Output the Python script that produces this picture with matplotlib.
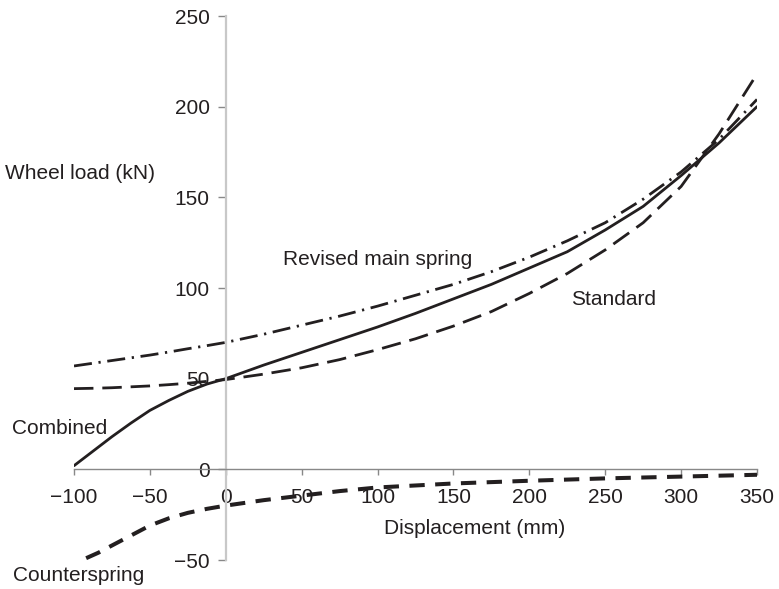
import matplotlib
matplotlib.use("Agg")
import matplotlib.pyplot as plt

plt.rcParams['font.family'] = ['Liberation Sans', 'DejaVu Sans']

# Data
x_main = [-100, -87.5, -75, -62.5, -50, -37.5, -25, -12.5, 0, 25, 50, 75, 100, 125, 150,
          175, 200, 225, 250, 275, 300, 325, 350]
combined = [2, 10, 18, 25.5, 32.5, 38, 43, 47, 50, 57.5, 64.5, 71.5, 78.5, 86, 94,
            102, 111, 120, 132, 145, 162, 180, 200]
revised = [57, 58.5, 60, 61.5, 63, 64.7, 66.5, 68.2, 70, 74.5, 79.5, 84.5, 90, 96, 102,
           109, 117, 126, 136, 149, 164, 182, 204]
standard = [44.5, 44.7, 45, 45.5, 46, 46.7, 47.5, 48.5, 49.5, 52.5, 56, 60.5, 66, 72, 79,
            87, 97, 108, 121, 136, 156, 185, 218]

x_counter = [-92, -84, -75, -62.5, -50, -37.5, -25, -12.5, 0, 25, 50, 75, 100, 150, 200,
             250, 300, 350]
counter = [-49, -46, -42, -36.5, -31, -27, -24, -21.8, -20, -17, -14.5, -12, -10, -7.8,
           -6.3, -5, -4, -3]

xticks = [-100, -50, 0, 50, 100, 150, 200, 250, 300, 350]
yticks = [-50, 0, 50, 100, 150, 200, 250]

ink = '#231f20'

fig = plt.figure(figsize=(7.79, 5.89), dpi=100)
ax = fig.add_axes([74/779, 29/589, 683/779, 544/589])
ax.set_xlim(-100, 350)
ax.set_ylim(-50, 250)

ax.plot(x_main, combined, color=ink, lw=2.0, solid_capstyle='round', solid_joinstyle='round')
ax.plot(x_main, revised, color=ink, lw=2.0, linestyle=(0, (6.5, 2.4, 0.8, 2.4)))
ax.plot(x_main, standard, color=ink, lw=2.0, linestyle=(0, (7, 3.2)))
ax.plot(x_counter, counter, color=ink, lw=2.9, linestyle=(0, (3.8, 2.6)))

for s in ['top', 'right']:
    ax.spines[s].set_visible(False)
ax.spines['left'].set_position(('data', 0))
ax.spines['bottom'].set_position(('data', 0))
ax.spines['left'].set_color('#c8c8c8')
ax.spines['left'].set_linewidth(1.6)
ax.spines['bottom'].set_color('#888888')
ax.spines['bottom'].set_linewidth(1.0)
ax.spines['left'].set_bounds(-50, 250)
ax.spines['bottom'].set_bounds(-100, 350)

ax.set_xticks(xticks)
ax.set_yticks(yticks)
ax.set_xticklabels([('\u2212%d' % -v) if v < 0 else str(v) for v in xticks])
ax.set_yticklabels([('\u2212%d' % -v) if v < 0 else str(v) for v in yticks])
ax.tick_params(axis='y', direction='out', length=5.8, width=1, color='#888888',
               pad=5.8, labelsize=15, labelcolor=ink)
ax.tick_params(axis='x', direction='out', length=4, width=1, color='#888888',
               pad=9.5, labelsize=15, labelcolor=ink)

ax.text(0.587, 0.0588, 'Displacement (mm)', transform=ax.transAxes, ha='center',
        va='center', fontsize=15, color=ink)
ax.text(-145.5, 162.9, 'Wheel load (kN)', ha='left', va='center', fontsize=15,
        color=ink, clip_on=False)
ax.text(-141, 22.6, 'Combined', ha='left', va='center', fontsize=15, color=ink,
        clip_on=False)
ax.text(-140, -58.3, 'Counterspring', ha='left', va='center', fontsize=15,
        color=ink, clip_on=False)
ax.text(37.9, 115.8, 'Revised main spring', ha='left', va='center', fontsize=15,
        color=ink)
ax.text(227.2, 93.4, 'Standard', ha='left', va='center', fontsize=15, color=ink)

fig.savefig('out.png', dpi=100)
